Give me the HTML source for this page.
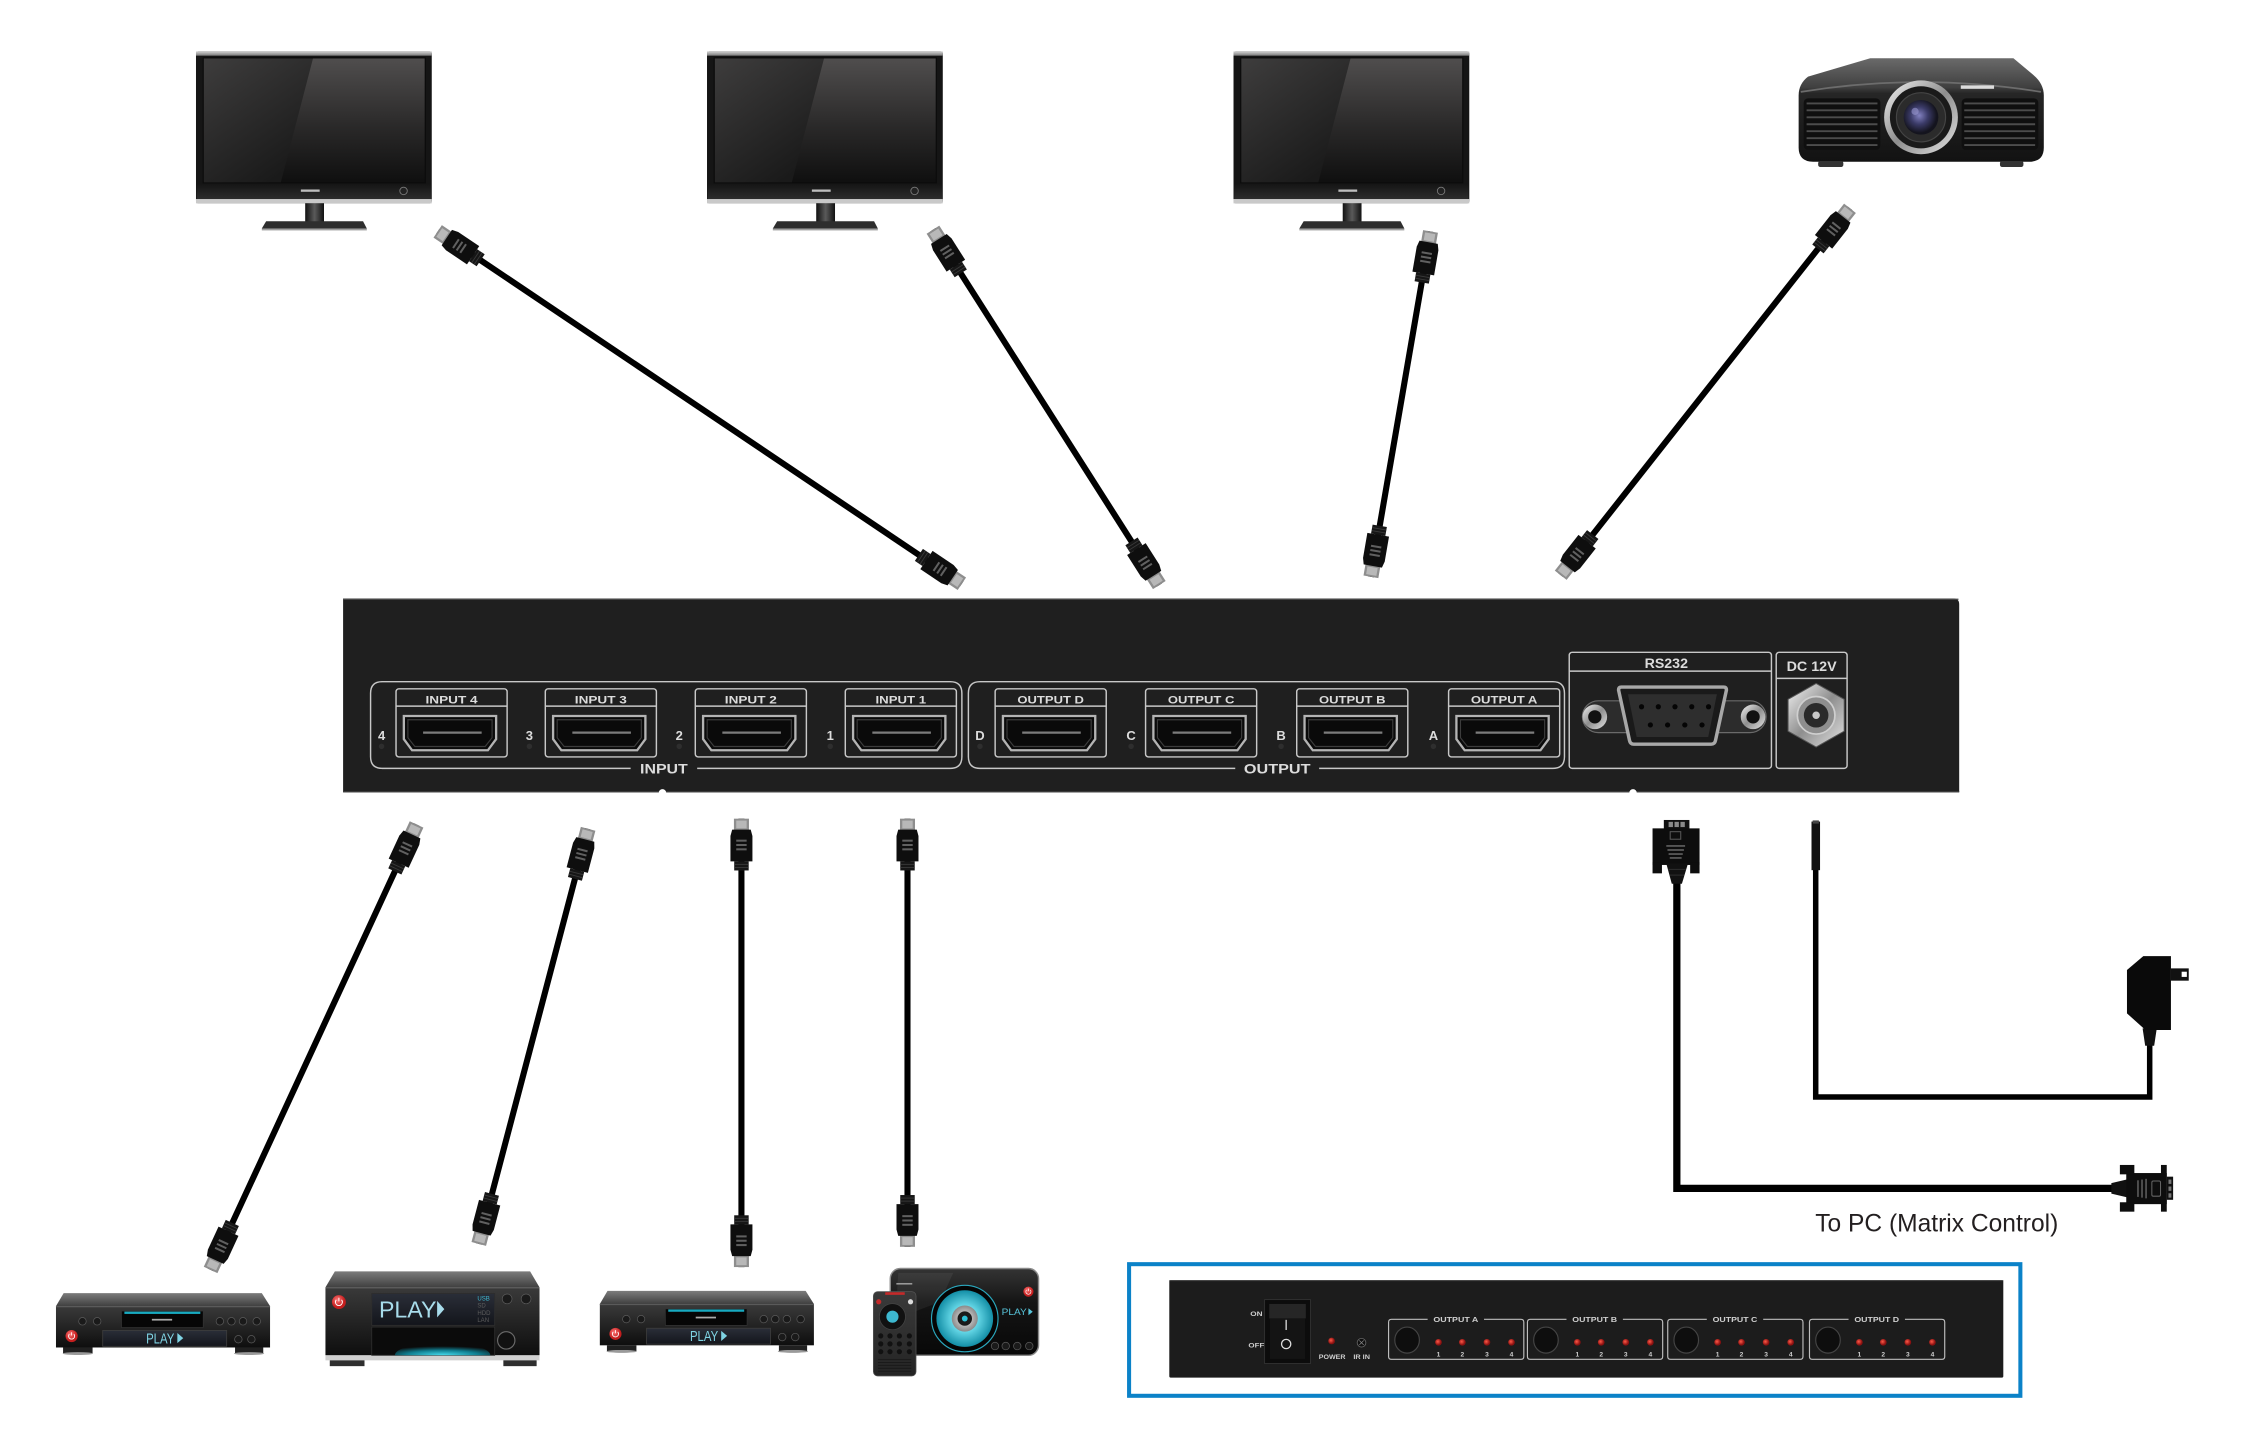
<!DOCTYPE html>
<html><head><meta charset="utf-8"><style>
html,body{margin:0;padding:0;background:#fff;overflow:hidden;}
svg{display:block;}
.lb{font-family:"Liberation Sans",sans-serif;font-weight:bold;fill:#dcdcdc;}
.sm{font-family:"Liberation Sans",sans-serif;font-weight:bold;fill:#cfcfcf;}
</style></head><body>
<svg width="2268" height="1440" viewBox="0 0 1568 995.56" preserveAspectRatio="none" xmlns="http://www.w3.org/2000/svg">
<defs>
<linearGradient id="scr" x1="0" y1="0" x2="0" y2="1"><stop offset="0" stop-color="#504e4e"/><stop offset="0.55" stop-color="#2a2929"/><stop offset="1" stop-color="#0f0f0f"/></linearGradient>
<linearGradient id="scrL" x1="0" y1="0" x2="0.6" y2="1"><stop offset="0" stop-color="#3e3d3d"/><stop offset="1" stop-color="#1a1a1a"/></linearGradient>
<linearGradient id="topStrip" x1="0" y1="0" x2="0" y2="1"><stop offset="0" stop-color="#d4d4d4"/><stop offset="1" stop-color="#7a7a7a"/></linearGradient>
<linearGradient id="bez" x1="0" y1="0" x2="0" y2="1"><stop offset="0" stop-color="#141414"/><stop offset="1" stop-color="#2c2c2c"/></linearGradient>
<linearGradient id="neck" x1="0" y1="0" x2="1" y2="0"><stop offset="0" stop-color="#111"/><stop offset="0.5" stop-color="#5a5a5a"/><stop offset="1" stop-color="#111"/></linearGradient>
<linearGradient id="gTop" x1="0" y1="0" x2="0" y2="1"><stop offset="0" stop-color="#7c7c7c"/><stop offset="1" stop-color="#404040"/></linearGradient>
<linearGradient id="gFront" x1="0" y1="0" x2="0" y2="1"><stop offset="0" stop-color="#3a3a3a"/><stop offset="1" stop-color="#0e0e0e"/></linearGradient>
<linearGradient id="gDisp" x1="0" y1="0" x2="0" y2="1"><stop offset="0" stop-color="#2a2e38"/><stop offset="1" stop-color="#13151b"/></linearGradient>
<radialGradient id="glow" cx="0.5" cy="1" r="0.7"><stop offset="0" stop-color="#45dcee"/><stop offset="0.55" stop-color="#0f7d8f"/><stop offset="1" stop-color="#0b0b0b"/></radialGradient>
<radialGradient id="disc"><stop offset="0" stop-color="#d2f6fa"/><stop offset="0.5" stop-color="#5fd2e2"/><stop offset="1" stop-color="#138ea6"/></radialGradient>
<radialGradient id="hub"><stop offset="0" stop-color="#f0f0f0"/><stop offset="1" stop-color="#8a8a8a"/></radialGradient>
<linearGradient id="silver" x1="0" y1="0" x2="1" y2="1"><stop offset="0" stop-color="#f4f4f4"/><stop offset="0.5" stop-color="#8e8e8e"/><stop offset="1" stop-color="#e4e4e4"/></linearGradient>
<radialGradient id="lensg" cx="0.45" cy="0.45"><stop offset="0" stop-color="#8281c0"/><stop offset="0.5" stop-color="#3b3b68"/><stop offset="1" stop-color="#14141e"/></radialGradient>
<linearGradient id="projG" x1="0" y1="0" x2="0" y2="1"><stop offset="0" stop-color="#6a6a6a"/><stop offset="0.28" stop-color="#404040"/><stop offset="0.34" stop-color="#262626"/><stop offset="1" stop-color="#121212"/></linearGradient>
<radialGradient id="red" cx="0.4" cy="0.35"><stop offset="0" stop-color="#ff7a7a"/><stop offset="1" stop-color="#c41e1e"/></radialGradient>
<radialGradient id="led" cx="0.4" cy="0.4"><stop offset="0" stop-color="#ff5a48"/><stop offset="1" stop-color="#8a1010"/></radialGradient>
<linearGradient id="d4body" x1="0" y1="0" x2="0" y2="1"><stop offset="0" stop-color="#343434"/><stop offset="0.4" stop-color="#141414"/><stop offset="1" stop-color="#080808"/></linearGradient>
<linearGradient id="remG" x1="0" y1="0" x2="0" y2="1"><stop offset="0" stop-color="#3a3a3a"/><stop offset="1" stop-color="#242424"/></linearGradient>

<g id="hc">
 <rect x="-5.2" y="0" width="10.4" height="8" fill="#8e8e8e"/>
 <rect x="-3.6" y="1.3" width="7.2" height="5.4" fill="#b8b8b8"/>
 <path d="M-6.4 7.6 L6.4 7.6 L7.6 12 L7.6 29.5 L-7.6 29.5 L-7.6 12 Z" fill="#0e0e0e"/>
 <rect x="-3.6" y="14.5" width="7.2" height="1.4" fill="#606060"/>
 <rect x="-3.6" y="17.5" width="7.2" height="1.4" fill="#606060"/>
 <rect x="-3.6" y="20.5" width="7.2" height="1.4" fill="#606060"/>
 <rect x="-5" y="29.5" width="10" height="6.3" fill="#161616"/>
 <line x1="-5" y1="31.6" x2="5" y2="31.6" stroke="#3a3a3a" stroke-width="0.6"/>
 <line x1="-5" y1="33.7" x2="5" y2="33.7" stroke="#3a3a3a" stroke-width="0.6"/>
</g>

<g id="mon">
 <rect x="135.5" y="35.5" width="163" height="105" rx="1.5" fill="#151515"/>
 <rect x="135.5" y="35.5" width="163" height="3" fill="url(#topStrip)"/>
 <rect x="140.5" y="40" width="153.5" height="86.5" fill="url(#scr)"/>
 <path d="M140.5 40 L216.5 40 L194 126.5 L140.5 126.5 Z" fill="url(#scrL)"/>
 <rect x="140.5" y="40" width="153.5" height="86.5" fill="none" stroke="#0b0b0b" stroke-width="0.8"/>
 <rect x="136" y="126.8" width="162" height="10.8" fill="url(#bez)"/>
 <rect x="208" y="131" width="13" height="1.6" fill="#bdbdbd"/>
 <circle cx="279" cy="132" r="2.6" fill="#222" stroke="#7a7a7a" stroke-width="0.6"/>
 <rect x="135.5" y="137.6" width="163" height="3" fill="#c9c9c9"/>
 <rect x="211" y="140.5" width="13" height="13" fill="url(#neck)"/>
 <path d="M184 153 L251 153 L253.6 158 L181 158 Z" fill="#2e2e2e"/>
 <rect x="181" y="158" width="72.6" height="1.3" fill="#a0a0a0"/>
</g>

<g id="port">
 <rect x="0" y="476.2" width="76.8" height="47.1" rx="2" fill="none" stroke="#c8c8c8" stroke-width="1"/>
 <line x1="0" y1="488.2" x2="76.8" y2="488.2" stroke="#c8c8c8" stroke-width="1"/>
 <path d="M5.4 495 L69.2 495 L69.2 511 L63.5 518.7 L11.1 518.7 L5.4 511 Z" fill="#0a0a0a" stroke="#b4b4b4" stroke-width="1.6"/>
 <path d="M8.2 497.6 L66.4 497.6 L66.4 510 L61.6 516.1 L13 516.1 L8.2 510 Z" fill="none" stroke="#3c3c3c" stroke-width="0.8"/>
 <line x1="18.7" y1="506.5" x2="59.2" y2="506.5" stroke="#7c7c7c" stroke-width="1.6"/>
</g>

<g id="pw">
 <circle r="1" fill="url(#red)"/>
 <path d="M-0.38 -0.32 A0.5 0.5 0 1 0 0.38 -0.32" fill="none" stroke="#fff" stroke-width="0.14"/>
 <path d="M0 -0.62 L0 -0.1" stroke="#fff" stroke-width="0.14"/>
</g>

<g id="btn"><circle r="2.6" fill="#1a1a1a" stroke="#5a5a5a" stroke-width="0.5"/></g>

<g id="dvd">
 <path d="M44 894 L181 894 L186.7 903 L38.7 903 Z" fill="url(#gTop)"/>
 <rect x="38.7" y="903" width="148" height="28.6" fill="url(#gFront)"/>
 <rect x="38.7" y="903" width="148" height="0.8" fill="#5a5a5a"/>
 <rect x="43.6" y="931.6" width="20.4" height="4.1" fill="#202020"/>
 <ellipse cx="53.8" cy="935.8" rx="10.5" ry="1" fill="#9a9a9a"/>
 <rect x="162.5" y="931.6" width="19.5" height="4.1" fill="#202020"/>
 <ellipse cx="172.2" cy="935.8" rx="10.5" ry="1" fill="#9a9a9a"/>
 <rect x="84" y="906.4" width="56.5" height="11.4" fill="#060606" stroke="#333" stroke-width="0.5"/>
 <rect x="86" y="906.8" width="52.5" height="1.6" fill="#18aac0"/>
 <rect x="105" y="911.8" width="14" height="1.2" fill="#aaa"/>
 <rect x="71" y="919.8" width="85.7" height="11" fill="url(#gDisp)" stroke="#3c3c3c" stroke-width="0.6"/>
 <text x="101" y="928.7" font-family="Liberation Sans, sans-serif" font-size="10" fill="#7fd3e3" textLength="19.5" lengthAdjust="spacingAndGlyphs">PLAY</text>
 <path d="M122.6 921.6 L126.7 925.1 L122.6 928.6 Z" fill="#7fd3e3"/>
 <use href="#pw" transform="translate(49.5 923.7) scale(4.2)"/>
 <use href="#btn" x="57" y="913.5"/><use href="#btn" x="67.2" y="913.5"/>
 <use href="#btn" x="152" y="913.5"/><use href="#btn" x="160" y="913.5"/><use href="#btn" x="168" y="913.5"/><use href="#btn" x="177.5" y="913.5"/>
 <use href="#btn" x="164.8" y="925.9"/><use href="#btn" x="173.8" y="925.9"/>
</g>
</defs>

<rect x="0" y="0" width="1568" height="995.56" fill="#fff"/>

<!-- Monitors -->
<use href="#mon"/>
<use href="#mon" transform="translate(353.3 0)"/>
<use href="#mon" transform="translate(717.3 0)"/>

<!-- Projector -->
<g>
 <path d="M1243.5 66 Q1243.5 58 1250 53 L1293 40.3 L1392 40.3 L1406 52 Q1413 58 1413 66 L1413 102 Q1413 111.8 1403 111.8 L1253.5 111.8 Q1243.5 111.8 1243.5 102 Z" fill="url(#projG)"/>
 <path d="M1245 63.5 Q1328 50 1411 63.5" fill="none" stroke="#6c6c6c" stroke-width="1.2"/>
 <rect x="1247" y="68" width="53" height="35.6" rx="3" fill="#0f0f0f"/>
 <rect x="1356.2" y="68" width="53" height="35.6" rx="3" fill="#0f0f0f"/>
 <g stroke="#4c4c4c" stroke-width="1.3">
  <line x1="1249" y1="71.5" x2="1298" y2="71.5"/><line x1="1249" y1="76.3" x2="1298" y2="76.3"/><line x1="1249" y1="81.1" x2="1298" y2="81.1"/><line x1="1249" y1="85.9" x2="1298" y2="85.9"/><line x1="1249" y1="90.7" x2="1298" y2="90.7"/><line x1="1249" y1="95.5" x2="1298" y2="95.5"/><line x1="1249" y1="100.3" x2="1298" y2="100.3"/>
  <line x1="1358" y1="71.5" x2="1407" y2="71.5"/><line x1="1358" y1="76.3" x2="1407" y2="76.3"/><line x1="1358" y1="81.1" x2="1407" y2="81.1"/><line x1="1358" y1="85.9" x2="1407" y2="85.9"/><line x1="1358" y1="90.7" x2="1407" y2="90.7"/><line x1="1358" y1="95.5" x2="1407" y2="95.5"/><line x1="1358" y1="100.3" x2="1407" y2="100.3"/>
 </g>
 <circle cx="1328.1" cy="81.1" r="25.5" fill="url(#silver)"/>
 <circle cx="1328.1" cy="81.1" r="21.5" fill="#1a1a1a"/>
 <circle cx="1328.1" cy="81.1" r="17" fill="#2b2b2b" stroke="#444" stroke-width="0.8"/>
 <circle cx="1328.1" cy="81.1" r="12" fill="url(#lensg)"/>
 <circle cx="1324" cy="77" r="2.5" fill="#9a98d0" opacity="0.6"/>
 <rect x="1355.6" y="59" width="23" height="2.4" fill="#dcdcdc"/>
 <rect x="1257" y="111.3" width="17.4" height="4.2" rx="1.5" fill="#333"/>
 <rect x="1382.7" y="111.3" width="16.2" height="4.2" rx="1.5" fill="#333"/>
</g>

<!-- HDMI cables -->
<g stroke="#000" stroke-width="4.2">
 <line x1="302.6" y1="160" x2="665" y2="403.6"/>
 <line x1="645" y1="158.8" x2="801.5" y2="404.5"/>
 <line x1="989" y1="160" x2="947.8" y2="398.8"/>
 <line x1="1279" y1="144" x2="1079" y2="397.7"/>
 <line x1="288" y1="570" x2="145.6" y2="878"/>
 <line x1="406.6" y1="573" x2="331" y2="860"/>
 <line x1="512.6" y1="566" x2="512.6" y2="876"/>
 <line x1="627.4" y1="566" x2="627.4" y2="862"/>
</g>
<use href="#hc" transform="translate(302.6 160) rotate(-56.1)"/>
<use href="#hc" transform="translate(665 403.6) rotate(123.9)"/>
<use href="#hc" transform="translate(645 158.8) rotate(-32.5)"/>
<use href="#hc" transform="translate(801.5 404.5) rotate(147.5)"/>
<use href="#hc" transform="translate(989 160) rotate(9.8)"/>
<use href="#hc" transform="translate(947.8 398.8) rotate(-170.2)"/>
<use href="#hc" transform="translate(1279 144) rotate(38.25)"/>
<use href="#hc" transform="translate(1079 397.7) rotate(-141.75)"/>
<use href="#hc" transform="translate(288 570) rotate(24.8)"/>
<use href="#hc" transform="translate(145.6 878) rotate(-155.2)"/>
<use href="#hc" transform="translate(406.6 573) rotate(14.76)"/>
<use href="#hc" transform="translate(331 860) rotate(-165.24)"/>
<use href="#hc" transform="translate(512.6 566)"/>
<use href="#hc" transform="translate(512.6 876) rotate(180)"/>
<use href="#hc" transform="translate(627.4 566)"/>
<use href="#hc" transform="translate(627.4 862) rotate(180)"/>

<!-- Main matrix device (rear) -->
<g>
 <path d="M237.2 413.8 L1350.5 413.8 Q1354.5 413.8 1354.5 417.8 L1354.5 547.8 L237.2 547.8 Z" fill="#1f1f1f"/>
 <line x1="237.2" y1="414.3" x2="1354" y2="414.3" stroke="#4a4a4a" stroke-width="0.9"/>
 <line x1="237.2" y1="547.3" x2="1354.5" y2="547.3" stroke="#3a3a3a" stroke-width="0.9"/>
 <circle cx="458" cy="548.2" r="2.6" fill="#fff"/>
 <circle cx="1129" cy="548.2" r="2.6" fill="#fff"/>

 <g fill="none" stroke="#c8c8c8" stroke-width="1">
  <path d="M436 531.2 L264.2 531.2 Q256.2 531.2 256.2 523.2 L256.2 479.3 Q256.2 471.3 264.2 471.3 L657 471.3 Q665 471.3 665 479.3 L665 523.2 Q665 531.2 657 531.2 L482 531.2"/>
  <path d="M854 531.2 L677.5 531.2 Q669.5 531.2 669.5 523.2 L669.5 479.3 Q669.5 471.3 677.5 471.3 L1073.6 471.3 Q1081.6 471.3 1081.6 479.3 L1081.6 523.2 Q1081.6 531.2 1073.6 531.2 L912 531.2"/>
  <rect x="1084.9" y="451" width="139.8" height="80.2" rx="2"/>
  <line x1="1084.9" y1="464" x2="1224.7" y2="464"/>
  <rect x="1228" y="451" width="49" height="80.2" rx="2"/>
  <line x1="1228" y1="469" x2="1277" y2="469"/>
 </g>
 <text class="lb" x="459" y="534.7" font-size="9.6" text-anchor="middle" textLength="33" lengthAdjust="spacingAndGlyphs">INPUT</text>
 <text class="lb" x="883" y="534.7" font-size="9.6" text-anchor="middle" textLength="46" lengthAdjust="spacingAndGlyphs">OUTPUT</text>

 <use href="#port" x="273.8"/>
 <use href="#port" x="377"/>
 <use href="#port" x="480.7"/>
 <use href="#port" x="584.4"/>
 <use href="#port" x="688"/>
 <use href="#port" x="792"/>
 <use href="#port" x="896.5"/>
 <use href="#port" x="1001.5"/>
 <g font-size="7.4">
  <text class="lb" x="312.2" y="486.3" text-anchor="middle" textLength="36" lengthAdjust="spacingAndGlyphs">INPUT 4</text>
  <text class="lb" x="415.4" y="486.3" text-anchor="middle" textLength="36" lengthAdjust="spacingAndGlyphs">INPUT 3</text>
  <text class="lb" x="519.1" y="486.3" text-anchor="middle" textLength="36" lengthAdjust="spacingAndGlyphs">INPUT 2</text>
  <text class="lb" x="622.8" y="486.3" text-anchor="middle" textLength="35" lengthAdjust="spacingAndGlyphs">INPUT 1</text>
  <text class="lb" x="726.4" y="486.3" text-anchor="middle" textLength="46" lengthAdjust="spacingAndGlyphs">OUTPUT D</text>
  <text class="lb" x="830.4" y="486.3" text-anchor="middle" textLength="46" lengthAdjust="spacingAndGlyphs">OUTPUT C</text>
  <text class="lb" x="934.9" y="486.3" text-anchor="middle" textLength="46" lengthAdjust="spacingAndGlyphs">OUTPUT B</text>
  <text class="lb" x="1039.9" y="486.3" text-anchor="middle" textLength="46" lengthAdjust="spacingAndGlyphs">OUTPUT A</text>
 </g>
 <g font-size="9" text-anchor="middle">
  <text class="lb" x="263.8" y="511.5">4</text>
  <text class="lb" x="366" y="511.5">3</text>
  <text class="lb" x="469.6" y="511.5">2</text>
  <text class="lb" x="574" y="511.5">1</text>
  <text class="lb" x="677.5" y="511.5">D</text>
  <text class="lb" x="782" y="511.5">C</text>
  <text class="lb" x="885.7" y="511.5">B</text>
  <text class="lb" x="991" y="511.5">A</text>
 </g>
 <g fill="#2e2e2e">
  <circle cx="263.8" cy="516" r="1.9"/><circle cx="366" cy="516" r="1.9"/><circle cx="469.6" cy="516" r="1.9"/><circle cx="574" cy="516" r="1.9"/>
  <circle cx="677.5" cy="516" r="1.9"/><circle cx="782" cy="516" r="1.9"/><circle cx="885.7" cy="516" r="1.9"/><circle cx="991" cy="516" r="1.9"/>
 </g>

 <text class="lb" x="1152" y="462" font-size="9.5" text-anchor="middle" textLength="30" lengthAdjust="spacingAndGlyphs">RS232</text>
 <text class="lb" x="1252.5" y="464" font-size="9.5" text-anchor="middle" textLength="34.6" lengthAdjust="spacingAndGlyphs">DC 12V</text>

 <!-- DB9 -->
 <rect x="1094" y="484.5" width="127" height="22" rx="11" fill="#2c2c2c" stroke="#6a6a6a" stroke-width="0.8"/>
 <circle cx="1102.6" cy="495.6" r="8.5" fill="url(#silver)"/>
 <circle cx="1102.6" cy="495.6" r="4.6" fill="#111"/>
 <circle cx="1212" cy="495.6" r="8.5" fill="url(#silver)"/>
 <circle cx="1212" cy="495.6" r="4.6" fill="#111"/>
 <path d="M1119 477 Q1119 475 1121 475 L1191.6 475 Q1193.6 475 1193.6 477 L1186 512 Q1185.5 514.5 1183 514.5 L1129.6 514.5 Q1127.1 514.5 1126.6 512 Z" fill="#1a1a1a" stroke="#a8a8a8" stroke-width="2.4"/>
 <path d="M1125.5 480 L1187 480 L1181 509.5 L1131.5 509.5 Z" fill="#2e2e2e"/>
 <g fill="#050505">
  <circle cx="1134.9" cy="488.6" r="1.8"/><circle cx="1146.5" cy="488.6" r="1.8"/><circle cx="1158" cy="488.6" r="1.8"/><circle cx="1169.6" cy="488.6" r="1.8"/><circle cx="1181.2" cy="488.6" r="1.8"/>
  <circle cx="1141" cy="501.2" r="1.8"/><circle cx="1152.9" cy="501.2" r="1.8"/><circle cx="1164.8" cy="501.2" r="1.8"/><circle cx="1176.7" cy="501.2" r="1.8"/>
 </g>
 <!-- DC jack -->
 <path d="M1255.6 472.5 L1275 483.5 L1275 505.5 L1255.6 516.5 L1236.2 505.5 L1236.2 483.5 Z" fill="url(#silver)" stroke="#555" stroke-width="0.7"/>
 <circle cx="1255.6" cy="494.5" r="13" fill="#8e8e8e" stroke="#cfcfcf" stroke-width="1.2"/>
 <circle cx="1255.6" cy="494.5" r="8.5" fill="#2a2a2a"/>
 <circle cx="1255.6" cy="494.5" r="2.6" fill="#c8c8c8"/>
</g>

<!-- RS232 cable -->
<path d="M1159.3 606 L1159.3 821.6 L1462 821.6" fill="none" stroke="#000" stroke-width="5"/>
<g>
 <rect x="1150.3" y="566.9" width="17.7" height="7" fill="#111"/>
 <rect x="1153.6" y="568.2" width="3" height="3.6" fill="#8a8a8a"/>
 <rect x="1157.7" y="568.2" width="3" height="3.6" fill="#8a8a8a"/>
 <rect x="1161.8" y="568.2" width="3" height="3.6" fill="#8a8a8a"/>
 <rect x="1142.5" y="572.7" width="32.5" height="25.3" fill="#0d0d0d"/>
 <rect x="1142.5" y="596" width="6.5" height="7.8" fill="#0d0d0d"/>
 <rect x="1168.5" y="596" width="6.5" height="7.8" fill="#0d0d0d"/>
 <rect x="1154.7" y="575" width="7.3" height="5.2" fill="none" stroke="#5a5a5a" stroke-width="0.7"/>
 <g fill="#555"><rect x="1152" y="584.2" width="13" height="1.3"/><rect x="1152.8" y="587" width="11.4" height="1.3"/><rect x="1153.6" y="589.8" width="9.8" height="1.3"/><rect x="1154.4" y="592.5" width="8.2" height="1.3"/></g>
 <path d="M1152 597 L1167 597 L1162.8 611 L1155.8 611 Z" fill="#111"/>
 <line x1="1153.5" y1="601" x2="1165.5" y2="601" stroke="#333" stroke-width="0.6"/>
 <line x1="1154.5" y1="605" x2="1164.5" y2="605" stroke="#333" stroke-width="0.6"/>
</g>
<g>
 <path d="M1459.7 818 L1474.4 814.5 L1474.4 828.7 L1459.7 825.2 Z" fill="#111"/>
 <rect x="1470" y="811" width="28" height="21.5" fill="#0d0d0d"/>
 <rect x="1465.6" y="805.4" width="10" height="6.5" fill="#0d0d0d"/>
 <rect x="1465.6" y="831.2" width="10" height="6.5" fill="#0d0d0d"/>
 <rect x="1494" y="805.4" width="4" height="32.3" fill="#0d0d0d"/>
 <rect x="1498" y="813.5" width="4.4" height="16" fill="#111"/>
 <g fill="#777"><rect x="1499.2" y="815.5" width="2" height="3"/><rect x="1499.2" y="820.3" width="2" height="3"/><rect x="1499.2" y="825" width="2" height="3"/></g>
 <rect x="1487.7" y="816.5" width="6" height="10.5" rx="1" fill="none" stroke="#666" stroke-width="0.7"/>
 <g fill="#555"><rect x="1477.5" y="816" width="1.2" height="11.5"/><rect x="1480.3" y="815.5" width="1.2" height="12.5"/><rect x="1483.1" y="815" width="1.2" height="13.5"/></g>
</g>

<!-- Power cable -->
<path d="M1255.3 600 L1255.3 758.4 L1486.2 758.4 L1486.2 718" fill="none" stroke="#000" stroke-width="3.8"/>
<rect x="1252.4" y="568" width="5.9" height="33.6" fill="#111"/>
<rect x="1253.2" y="567.2" width="4.3" height="2.2" fill="#444"/>
<path d="M1481.3 711 L1491.1 711 L1489.3 723 L1483.1 723 Z" fill="#111"/>
<path d="M1481.8 661 L1500.9 661 L1500.9 712.1 L1483.3 712.1 L1470.5 700.6 L1470.5 670.6 Z" fill="#0a0a0a"/>
<rect x="1500.9" y="669.5" width="12.3" height="8.5" fill="#111"/>
<rect x="1508.3" y="671.8" width="3.6" height="3.6" fill="#fff"/>

<text x="1255" y="851.5" font-family="Liberation Sans, sans-serif" font-size="17.4" fill="#231f20" textLength="168" lengthAdjust="spacingAndGlyphs">To PC (Matrix Control)</text>

<!-- Bottom source devices -->
<use href="#dvd"/>
<use href="#dvd" transform="translate(376 -1.5)"/>

<g>
 <path d="M231.5 879 L366.5 879 L373 890 L225 890 Z" fill="url(#gTop)"/>
 <rect x="225" y="890" width="148" height="47" fill="url(#gFront)"/>
 <rect x="225" y="890" width="148" height="0.8" fill="#5a5a5a"/>
 <rect x="225" y="937" width="148" height="3.5" fill="#d0d0d0"/>
 <rect x="228" y="940.5" width="24" height="4" fill="#2e2e2e"/>
 <rect x="348" y="940.5" width="23" height="4" fill="#2e2e2e"/>
 <rect x="257" y="894.3" width="85" height="22" fill="url(#gDisp)" stroke="#2d2d2d" stroke-width="0.6"/>
 <text x="262" y="910.8" font-family="Liberation Sans, sans-serif" font-size="16" fill="#a8dceb" textLength="39.7" lengthAdjust="spacingAndGlyphs">PLAY</text>
 <path d="M302.2 899.4 L307.2 905.1 L302.2 910.8 Z" fill="#a8dceb"/>
 <g font-family="Liberation Sans, sans-serif" font-size="4.2">
  <text x="330" y="899" fill="#3fb9d2">USB</text>
  <text x="330" y="904" fill="#5c5c5c">SD</text>
  <text x="330" y="909" fill="#5c5c5c">HDD</text>
  <text x="330" y="914" fill="#5c5c5c">LAN</text>
 </g>
 <rect x="257" y="917.5" width="85" height="19.5" fill="#0b0b0b" stroke="#2d2d2d" stroke-width="0.6"/>
 <path d="M273 937 A33 9 0 0 1 339 937 Z" fill="url(#glow)"/>
 <circle cx="350.6" cy="898" r="3.4" fill="#1a1a1a" stroke="#5a5a5a" stroke-width="0.5"/>
 <circle cx="363.7" cy="898" r="3.4" fill="#1a1a1a" stroke="#5a5a5a" stroke-width="0.5"/>
 <circle cx="350" cy="926.7" r="6" fill="#111" stroke="#6a6a6a" stroke-width="0.8"/>
 <use href="#pw" transform="translate(234.3 900.2) scale(4.8)"/>
</g>

<g>
 <rect x="615.5" y="877" width="102.5" height="60" rx="7" fill="url(#d4body)" stroke="#8a8a8a" stroke-width="1"/>
 <path d="M621 880 L659 880 L650 900 L619 912 Z" fill="#ffffff" opacity="0.06"/>
 <rect x="619.7" y="887" width="11" height="1.1" fill="#999"/>
 <circle cx="667" cy="911.6" r="23" fill="#050505" stroke="#2aa7bd" stroke-width="0.8"/>
 <circle cx="667" cy="911.6" r="19.6" fill="url(#disc)"/>
 <circle cx="667" cy="911.6" r="9" fill="url(#hub)"/>
 <circle cx="667" cy="911.6" r="5" fill="#1a1a1a"/>
 <circle cx="667" cy="911.6" r="2" fill="#2ec0d6"/>
 <use href="#pw" transform="translate(711 893) scale(3.5)"/>
 <text x="692.5" y="909.2" font-family="Liberation Sans, sans-serif" font-size="6.6" fill="#57c4da" textLength="17.3" lengthAdjust="spacingAndGlyphs">PLAY</text>
 <path d="M711 904.5 L714 906.9 L711 909.3 Z" fill="#57c4da"/>
 <use href="#btn" x="687.9" y="930.6"/><use href="#btn" x="695.3" y="930.6"/><use href="#btn" x="703.3" y="930.6"/><use href="#btn" x="711.6" y="930.6"/>
 <!-- remote -->
 <rect x="603.8" y="893" width="29.5" height="58.3" rx="3" fill="url(#remG)" stroke="#555" stroke-width="0.5"/>
 <rect x="612" y="893.4" width="13.5" height="1.8" fill="#c42a2a"/>
 <circle cx="607.5" cy="900" r="1.8" fill="#c42a2a"/>
 <circle cx="629.5" cy="900" r="1.8" fill="#ddd"/>
 <circle cx="617" cy="910.3" r="9" fill="#111" stroke="#444" stroke-width="0.5"/>
 <circle cx="617" cy="910.3" r="4.2" fill="#3db8d0"/>
 <g fill="#111">
  <circle cx="608.9" cy="923.6" r="1.8"/><circle cx="615.3" cy="923.6" r="1.8"/><circle cx="621.8" cy="923.6" r="1.8"/><circle cx="628.7" cy="923.6" r="1.8"/>
  <circle cx="608.9" cy="929.1" r="1.8"/><circle cx="615.3" cy="929.1" r="1.8"/><circle cx="621.8" cy="929.1" r="1.8"/><circle cx="628.7" cy="929.1" r="1.8"/>
  <circle cx="608.9" cy="934.5" r="1.8"/><circle cx="615.3" cy="934.5" r="1.8"/><circle cx="621.8" cy="934.5" r="1.8"/><circle cx="628.7" cy="934.5" r="1.8"/>
 </g>
 <g stroke="#1a1a1a" stroke-width="0.7">
  <line x1="607" y1="940" x2="630" y2="940"/><line x1="607" y1="942" x2="630" y2="942"/><line x1="607" y1="944" x2="630" y2="944"/><line x1="607" y1="946" x2="630" y2="946"/><line x1="607" y1="948" x2="630" y2="948"/>
 </g>
</g>

<!-- Front panel (blue box) -->
<rect x="780.6" y="874" width="616.2" height="91" fill="none" stroke="#0b82c8" stroke-width="2.8"/>
<g>
 <rect x="808.4" y="885" width="576.6" height="67.4" rx="1" fill="#1c1c1c"/>
 <line x1="808.4" y1="885.4" x2="1385" y2="885.4" stroke="#444" stroke-width="0.7"/>
 <rect x="874.3" y="898.5" width="31.7" height="44.2" fill="#0c0c0c" stroke="#333" stroke-width="0.6"/>
 <rect x="877.5" y="901.5" width="25.3" height="10" fill="#262626"/>
 <rect x="878" y="911.5" width="24.3" height="28" fill="#141414"/>
 <line x1="889.2" y1="912.5" x2="889.2" y2="919.5" stroke="#ddd" stroke-width="0.9"/>
 <circle cx="889.2" cy="929.2" r="3.2" fill="none" stroke="#ddd" stroke-width="0.9"/>
 <g class="sm" font-size="4.3" text-anchor="middle">
  <text x="868.6" y="909.8" textLength="8.5" lengthAdjust="spacingAndGlyphs">ON</text>
  <text x="868.6" y="931.5" textLength="11" lengthAdjust="spacingAndGlyphs">OFF</text>
  <text x="921" y="939.6" textLength="18.5" lengthAdjust="spacingAndGlyphs">POWER</text>
  <text x="941.4" y="939.6" textLength="11.5" lengthAdjust="spacingAndGlyphs">IR IN</text>
 </g>
 <circle cx="920.6" cy="927.1" r="2.3" fill="url(#led)"/>
 <circle cx="941.3" cy="928.3" r="3" fill="#0e0e0e" stroke="#666" stroke-width="0.6"/>
 <path d="M939.8 926.8 L942.8 929.8 M942.8 926.8 L939.8 929.8" stroke="#888" stroke-width="0.5"/>

 <g id="grpA">
  <path d="M987 912.1 L962 912.1 Q960 912.1 960 914.1 L960 937.8 Q960 939.8 962 939.8 L1051.5 939.8 Q1053.5 939.8 1053.5 937.8 L1053.5 914.1 Q1053.5 912.1 1051.5 912.1 L1026 912.1" fill="none" stroke="#bdbdbd" stroke-width="0.8"/>
  <ellipse cx="972.8" cy="926.5" rx="8.5" ry="9" fill="#0e0e0e" stroke="#444" stroke-width="0.8"/>
  <circle cx="994.5" cy="928" r="2.3" fill="url(#led)"/><circle cx="1011" cy="928" r="2.3" fill="url(#led)"/><circle cx="1028" cy="928" r="2.3" fill="url(#led)"/><circle cx="1045" cy="928" r="2.3" fill="url(#led)"/>
  <g class="sm" font-size="4.6" text-anchor="middle">
   <text x="994.5" y="938">1</text><text x="1011" y="938">2</text><text x="1028" y="938">3</text><text x="1045" y="938">4</text>
  </g>
 </g>
 <use href="#grpA" transform="translate(96 0)"/>
 <use href="#grpA" transform="translate(193 0)"/>
 <use href="#grpA" transform="translate(291 0)"/>
 <g class="sm" font-size="4.8" text-anchor="middle">
  <text x="1006.5" y="914" textLength="31" lengthAdjust="spacingAndGlyphs">OUTPUT A</text>
  <text x="1102.5" y="914" textLength="31" lengthAdjust="spacingAndGlyphs">OUTPUT B</text>
  <text x="1199.5" y="914" textLength="31" lengthAdjust="spacingAndGlyphs">OUTPUT C</text>
  <text x="1297.5" y="914" textLength="31" lengthAdjust="spacingAndGlyphs">OUTPUT D</text>
 </g>
</g>
</svg>
</body></html>
